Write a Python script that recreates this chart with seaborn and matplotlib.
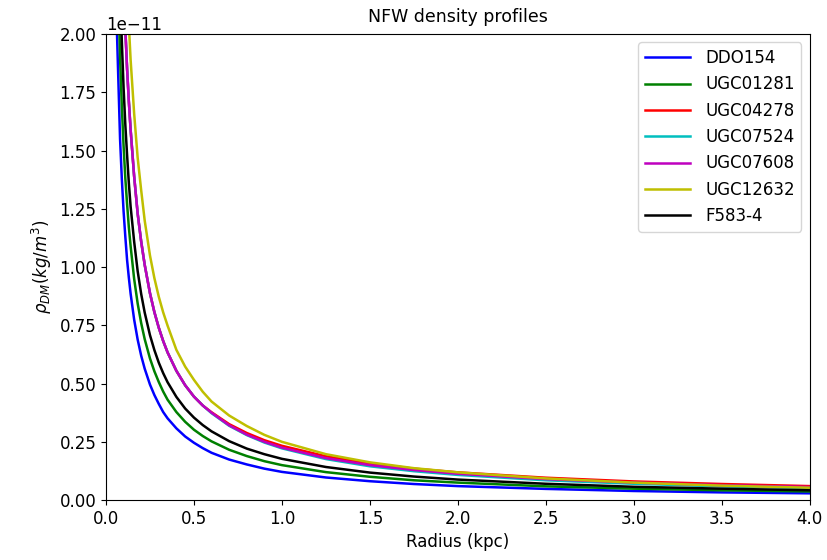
import matplotlib
matplotlib.use("Agg")
import matplotlib.pyplot as plt
import seaborn as sns

# radius in kpc, densities in units of 1e-11 kg/m^3
radius = [0.04, 0.06, 0.08, 0.09, 0.1, 0.11, 0.12, 0.13, 0.14, 0.16, 0.18, 0.2,
          0.22, 0.25, 0.275, 0.3, 0.325, 0.35, 0.4, 0.45, 0.5, 0.55, 0.6, 0.7,
          0.8, 0.9, 1.0, 1.25, 1.5, 1.75, 2.0, 2.5, 3.0, 3.5, 4.0]

ddo154 = [3.10, 2.07, 1.55, 1.38, 1.24, 1.13, 1.03, 0.954, 0.886, 0.775, 0.689, 0.62,
          0.564, 0.496, 0.451, 0.413, 0.378, 0.351, 0.308, 0.273, 0.246, 0.223, 0.203, 0.174,
          0.153, 0.135, 0.121, 0.097, 0.081, 0.069, 0.060, 0.048, 0.039, 0.033, 0.029]
ugc01281 = [3.80, 2.53, 1.90, 1.69, 1.52, 1.38, 1.27, 1.17, 1.09, 0.95, 0.844, 0.76,
            0.691, 0.608, 0.553, 0.507, 0.466, 0.431, 0.378, 0.336, 0.302, 0.275, 0.252, 0.216,
            0.189, 0.167, 0.150, 0.120, 0.100, 0.085, 0.075, 0.059, 0.049, 0.042, 0.037]
ugc04278 = [5.55, 3.70, 2.78, 2.47, 2.22, 2.02, 1.85, 1.71, 1.59, 1.39, 1.23, 1.11,
            1.01, 0.888, 0.807, 0.74, 0.683, 0.634, 0.555, 0.493, 0.444, 0.406, 0.377, 0.326,
            0.288, 0.257, 0.233, 0.188, 0.157, 0.135, 0.119, 0.096, 0.080, 0.069, 0.060]
ugc07524 = [5.55, 3.70, 2.78, 2.47, 2.22, 2.02, 1.85, 1.71, 1.59, 1.39, 1.23, 1.11,
            1.01, 0.888, 0.807, 0.74, 0.683, 0.634, 0.555, 0.493, 0.444, 0.406, 0.373, 0.319,
            0.279, 0.247, 0.222, 0.176, 0.145, 0.124, 0.108, 0.085, 0.070, 0.059, 0.052]
ugc07608 = [5.55, 3.70, 2.78, 2.47, 2.22, 2.02, 1.85, 1.71, 1.59, 1.39, 1.23, 1.11,
            1.01, 0.888, 0.807, 0.74, 0.683, 0.634, 0.555, 0.493, 0.444, 0.406, 0.375, 0.321,
            0.281, 0.250, 0.225, 0.180, 0.150, 0.129, 0.113, 0.090, 0.075, 0.064, 0.056]
ugc12632 = [6.70, 4.47, 3.35, 2.98, 2.68, 2.42, 2.21, 2.04, 1.89, 1.66, 1.47, 1.33,
            1.20, 1.05, 0.953, 0.873, 0.806, 0.749, 0.645, 0.573, 0.516, 0.465, 0.423, 0.363,
            0.318, 0.280, 0.250, 0.197, 0.162, 0.137, 0.119, 0.093, 0.075, 0.062, 0.053]
f583_4 = [4.43, 2.95, 2.21, 1.97, 1.77, 1.61, 1.48, 1.36, 1.26, 1.11, 0.983, 0.885,
          0.805, 0.708, 0.644, 0.59, 0.545, 0.506, 0.443, 0.393, 0.354, 0.322, 0.295, 0.253,
          0.221, 0.197, 0.177, 0.142, 0.118, 0.101, 0.088, 0.070, 0.057, 0.049, 0.042]

names = ["DDO154", "UGC01281", "UGC04278", "UGC07524", "UGC07608", "UGC12632", "F583-4"]
profiles = [ddo154, ugc01281, ugc04278, ugc07524, ugc07608, ugc12632, f583_4]
colors = ["b", "g", "r", "c", "m", "y", "k"]
scale = 1e-11

plt.rcParams["font.family"] = ["DejaVu Sans"]
plt.rcParams["font.size"] = 12

fig = plt.figure(figsize=(8.28, 5.6), dpi=100)
ax = fig.add_axes([0.128, 0.107, 0.850, 0.832])

for name, prof, col in zip(names, profiles, colors):
    sns.lineplot(x=radius, y=[v * scale for v in prof], color=col, label=name,
                 linewidth=1.8, ax=ax)

ax.set_xlim(0, 4)
ax.set_ylim(0, 2e-11)
ax.set_xlabel("Radius (kpc)")
ax.set_ylabel(r"$\rho_{DM}(kg/m^3)$")
ax.set_title("NFW density profiles", fontsize=12.5, pad=9)
ax.legend(loc="upper right", fontsize=12, handlelength=2.7, handletextpad=0.9)

fig.savefig("out.png", dpi=100)
plt.close(fig)
